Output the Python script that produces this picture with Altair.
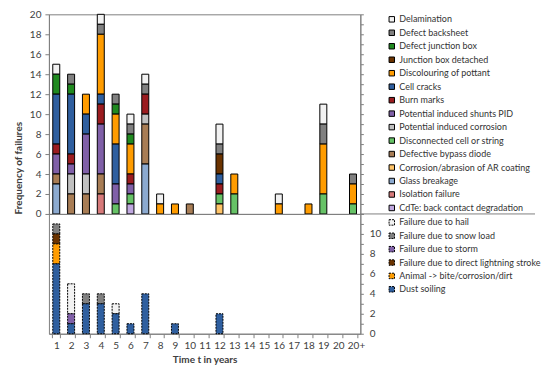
import altair as alt
import pandas as pd

years = [str(i) for i in range(1, 21)] + ["20+"]

# ---- upper chart: module failures (legend order, top to bottom) ----
upper_causes = [
    "Delamination", "Defect backsheet", "Defect junction box", "Junction box detached",
    "Discolouring of pottant", "Cell cracks", "Burn marks", "Potential induced shunts PID",
    "Potential induced corrosion", "Disconnected cell or string", "Defective bypass diode",
    "Corrosion/abrasion of AR coating", "Glass breakage", "Isolation failure",
    "CdTe: back contact degradation",
]
upper_colors = [
    "#f2f2f2", "#808080", "#208a20", "#6b3300", "#ff9c00", "#2f5f9f", "#9b1c20", "#8060a8",
    "#c0c0c0", "#66c266", "#a87d55", "#ffc468", "#8caad0", "#d77a7a", "#c0a8e0",
]
#                     1  2  3  4  5  6  7  8  9 10 11 12 13 14 15 16 17 18 19 20 20+
delamination      = [1, 0, 0, 1, 0, 1, 1, 1, 0, 0, 0, 2, 0, 0, 0, 1, 0, 0, 2, 0, 0]
defect_backsheet  = [0, 1, 0, 1, 1, 1, 1, 0, 0, 0, 0, 1, 0, 0, 0, 0, 0, 0, 2, 0, 1]
defect_jbox       = [2, 1, 0, 0, 1, 1, 0, 0, 0, 0, 0, 0, 0, 0, 0, 0, 0, 0, 0, 0, 0]
jbox_detached     = [0, 0, 0, 0, 0, 0, 0, 0, 0, 0, 0, 2, 0, 0, 0, 0, 0, 0, 0, 0, 0]
discolouring      = [0, 0, 2, 6, 3, 3, 0, 1, 1, 0, 0, 0, 2, 0, 0, 1, 0, 1, 5, 0, 2]
cell_cracks       = [5, 6, 2, 1, 4, 0, 0, 0, 0, 0, 0, 1, 0, 0, 0, 0, 0, 0, 0, 0, 0]
burn_marks        = [1, 1, 0, 2, 0, 1, 2, 0, 0, 0, 0, 1, 0, 0, 0, 0, 0, 0, 0, 0, 0]
pid_shunts        = [2, 1, 4, 5, 2, 1, 0, 0, 0, 0, 0, 0, 0, 0, 0, 0, 0, 0, 0, 0, 0]
pid_corrosion     = [0, 2, 2, 0, 0, 0, 1, 0, 0, 0, 0, 0, 0, 0, 0, 0, 0, 0, 0, 0, 0]
disconnected      = [0, 0, 0, 0, 1, 1, 0, 0, 0, 0, 0, 1, 2, 0, 0, 0, 0, 0, 2, 0, 1]
bypass_diode      = [1, 2, 2, 2, 0, 0, 4, 0, 0, 1, 0, 0, 0, 0, 0, 0, 0, 0, 0, 0, 0]
ar_coating        = [0, 0, 0, 0, 0, 0, 0, 0, 0, 0, 0, 1, 0, 0, 0, 0, 0, 0, 0, 0, 0]
glass_breakage    = [3, 0, 0, 0, 0, 0, 5, 0, 0, 0, 0, 0, 0, 0, 0, 0, 0, 0, 0, 0, 0]
isolation         = [0, 0, 0, 2, 0, 0, 0, 0, 0, 0, 0, 0, 0, 0, 0, 0, 0, 0, 0, 0, 0]
cdte              = [0, 0, 0, 0, 0, 1, 0, 0, 0, 0, 0, 0, 0, 0, 0, 0, 0, 0, 0, 0, 0]
upper_counts = [delamination, defect_backsheet, defect_jbox, jbox_detached, discolouring,
                cell_cracks, burn_marks, pid_shunts, pid_corrosion, disconnected,
                bypass_diode, ar_coating, glass_breakage, isolation, cdte]

# ---- lower chart: external causes ----
lower_causes = [
    "Failure due to hail", "Failure due to snow load", "Failure due to storm",
    "Failure due to direct lightning stroke", "Animal -> bite/corrosion/dirt", "Dust soiling",
]
lower_colors = ["#f2f2f2", "#808080", "#8060a8", "#6b3300", "#ff9c00", "#2f5f9f"]
#                1  2  3  4  5  6  7  8  9 10 11 12 13 14 15 16 17 18 19 20 20+
hail         = [0, 3, 0, 0, 1, 0, 0, 0, 0, 0, 0, 0, 0, 0, 0, 0, 0, 0, 0, 0, 0]
snow_load    = [1, 0, 1, 1, 0, 0, 0, 0, 0, 0, 0, 0, 0, 0, 0, 0, 0, 0, 0, 0, 0]
storm        = [0, 1, 0, 0, 0, 0, 0, 0, 0, 0, 0, 0, 0, 0, 0, 0, 0, 0, 0, 0, 0]
lightning    = [1, 0, 0, 0, 0, 0, 0, 0, 0, 0, 0, 0, 0, 0, 0, 0, 0, 0, 0, 0, 0]
animal       = [2, 0, 0, 0, 0, 0, 0, 0, 0, 0, 0, 0, 0, 0, 0, 0, 0, 0, 0, 0, 0]
dust_soiling = [7, 1, 3, 3, 2, 1, 4, 0, 1, 0, 0, 2, 0, 0, 0, 0, 0, 0, 0, 0, 0]
lower_counts = [hail, snow_load, storm, lightning, animal, dust_soiling]


def long_table(causes, counts):
    rows = []
    n = len(causes)
    for i, (name, vals) in enumerate(zip(causes, counts)):
        for yr, v in zip(years, vals):
            if v:
                rows.append({"year": yr, "cause": name, "count": v, "rank": n - 1 - i})
    return pd.DataFrame(rows)


up_df = long_table(upper_causes, upper_counts)
lo_df = long_table(lower_causes, lower_counts)

FONT = "Lato, sans-serif"
FRAME = "#7f7f7f"
TXT = "#404040"
LEG = "#333333"
W = 312

x_up = alt.X("year:N", sort=years, scale=alt.Scale(domain=years, paddingInner=0.45, paddingOuter=0.22),
             axis=alt.Axis(labels=False, ticks=False, title=None, domainColor=FRAME))

bars_up = alt.Chart(up_df).mark_bar(size=7, stroke="black", strokeWidth=1).encode(
    x=x_up,
    y=alt.Y("count:Q", stack="zero", scale=alt.Scale(domain=[0, 20], nice=False),
            axis=alt.Axis(values=list(range(0, 21, 2)), title="Frequency of failures",
                          titleAnchor="start", titleFontWeight="bold", titleFontSize=10,
                          titleColor=TXT, titlePadding=6, labelColor=TXT, labelFontSize=10,
                          tickSize=4, tickColor=FRAME, domainColor=FRAME, grid=False,
                          labelPadding=4)),
    color=alt.Color("cause:N", scale=alt.Scale(domain=upper_causes, range=upper_colors),
                    legend=alt.Legend(orient="none", legendX=339, legendY=0.5, title=None,
                                      symbolType="square", symbolSize=30,
                                      symbolStrokeColor="black", symbolStrokeWidth=1,
                                      labelFontSize=9, labelColor=LEG, labelLimit=300,
                                      rowPadding=2.5, padding=0, labelOffset=3)),
    order=alt.Order("rank:Q", sort="ascending"),
)

ticks_up = alt.Chart(up_df).mark_point(opacity=0).encode(
    x=x_up,
    y=alt.Y("count:Q", scale=alt.Scale(domain=[0, 20], nice=False),
            axis=alt.Axis(orient="right", values=list(range(0, 21)), labels=False, title=None,
                          tickSize=3, tickColor=FRAME, domainColor=FRAME, grid=False)),
)

ext_line = alt.Chart(pd.DataFrame({"a": [0]})).mark_rule(color=FRAME, strokeWidth=1).encode(
    x=alt.value(W), x2=alt.value(487), y=alt.value(200)
)

upper = alt.layer(bars_up, ticks_up, ext_line).resolve_axis(y="independent").properties(
    width=W, height=200
)

bars_lo = alt.Chart(lo_df).mark_bar(size=7, stroke="black", strokeWidth=1, strokeDash=[2, 1]).encode(
    x=alt.X("year:N", sort=years, scale=alt.Scale(domain=years, paddingInner=0.45, paddingOuter=0.22),
            axis=alt.Axis(title="Time t in years", labelAngle=0, tickBand="extent",
                          labelColor=TXT, labelFontSize=10, titleFontWeight="bold",
                          titleFontSize=10, titleColor=TXT, titlePadding=4,
                          labelOffset={"condition": {"test": "datum.label == '20+'", "value": 3},
                                       "value": 0},
                          tickColor=FRAME, domainColor=FRAME, tickSize=4, labelPadding=3)),
    y=alt.Y("count:Q", stack="zero", scale=alt.Scale(domain=[0, 12], nice=False),
            axis=alt.Axis(orient="right", values=list(range(0, 13)),
                          labelExpr="(datum.value % 2 == 0 && datum.value <= 10) ? datum.label : ''",
                          title=None, labelColor=TXT, labelFontSize=10, tickSize=3,
                          tickColor=FRAME, domainColor=FRAME, grid=False, labelPadding=6)),
    color=alt.Color("cause:N", scale=alt.Scale(domain=lower_causes, range=lower_colors),
                    legend=alt.Legend(orient="none", legendX=339, legendY=4, title=None,
                                      symbolType="square", symbolSize=30,
                                      symbolStrokeColor="black", symbolStrokeWidth=1,
                                      symbolDash=[2, 1],
                                      labelFontSize=9, labelColor=LEG, labelLimit=300,
                                      rowPadding=2.4, padding=0, labelOffset=3)),
    order=alt.Order("rank:Q", sort="ascending"),
).properties(width=W, height=120)

chart = alt.vconcat(upper, bars_lo, spacing=0, bounds="flush").resolve_scale(
    color="independent"
).properties(
    padding={"left": 4, "top": 0, "right": 0, "bottom": 0}
).configure(font=FONT).configure_view(stroke=FRAME, strokeWidth=1)

chart.save("out.html", embed_options={"renderer": "svg", "actions": False})
